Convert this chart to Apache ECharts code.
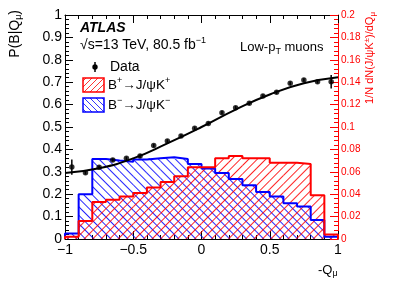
<!DOCTYPE html>
<html>
<head>
<meta charset="utf-8">
<script src="https://cdn.jsdelivr.net/npm/echarts@6/dist/echarts.min.js"></script>
<style>
html,body{margin:0;padding:0;background:#fff;}
#c{width:399px;height:286px;}
</style>
</head>
<body>
<div id="c"></div>
<script>
// ---- data ----
var binEdges = [-1,-0.9,-0.8,-0.7,-0.6,-0.5,-0.4,-0.3,-0.2,-0.1,0,0.1,0.2,0.3,0.4,0.5,0.6,0.7,0.8,0.9,1];
var binLabels = ['-0.95','-0.85','-0.75','-0.65','-0.55','-0.45','-0.35','-0.25','-0.15','-0.05','0.05','0.15','0.25','0.35','0.45','0.55','0.65','0.75','0.85','0.95'];
// fraction per bin (right axis)
var bMinus = [0.005,0.040,0.0714,0.070,0.069,0.071,0.072,0.073,0.0714,0.067,0.063,0.059,0.0535,0.048,0.042,0.038,0.032,0.029,0.017,0.002];
var bPlus  = [0.002,0.016,0.033,0.035,0.038,0.041,0.046,0.051,0.056,0.064,0.064,0.072,0.074,0.072,0.072,0.068,0.068,0.067,0.039,0.004];
// data points (left axis)
var dataQ = [-0.95,-0.85,-0.75,-0.65,-0.55,-0.45,-0.35,-0.25,-0.15,-0.05,0.05,0.15,0.25,0.35,0.45,0.55,0.65,0.75,0.85,0.95];
var dataP = [0.321,0.296,0.320,0.353,0.360,0.370,0.417,0.437,0.460,0.494,0.516,0.564,0.586,0.606,0.638,0.655,0.695,0.710,0.702,0.702];
var dataErr = [0.034,0.008,0.008,0.008,0.008,0.008,0.008,0.008,0.008,0.008,0.008,0.008,0.008,0.008,0.008,0.008,0.008,0.008,0.008,0.030];
// fitted curve
var fitQ = [-1,-0.75,-0.5,-0.25,0,0.25,0.5,0.75,1];
var fitP = [0.295,0.316,0.360,0.427,0.500,0.578,0.645,0.695,0.722];

var RED = '#ff0000', BLUE = '#0000ff';
var FONT = 'Liberation Sans, Arial, Helvetica, sans-serif';

function stepData(vals){
  var d = [[binEdges[0],0]];
  for (var i=0;i<vals.length;i++) d.push([binEdges[i], vals[i]]);
  d.push([binEdges[binEdges.length-1], vals[vals.length-1]]);
  d.push([binEdges[binEdges.length-1], 0]);
  return d;
}
function hatchLines(x0,y0,w,h,dir,color,step){
  var out=[]; var x1=x0+w, y1=y0+h;
  if (dir>0){ // "/" : x+y=c
    for (var c=x0+y0+step/2;c<x1+y1;c+=step){
      var xa=Math.max(x0,c-y1), xb=Math.min(x1,c-y0);
      if (xb>xa) out.push({type:'line',shape:{x1:xa,y1:c-xa,x2:xb,y2:c-xb},style:{stroke:color,lineWidth:1,opacity:0.8}});
    }
  } else { // "\" : x-y=c
    for (var c2=x0-y1+step/2;c2<x1-y0;c2+=step){
      var xa2=Math.max(x0,c2+y0), xb2=Math.min(x1,c2+y1);
      if (xb2>xa2) out.push({type:'line',shape:{x1:xa2,y1:xa2-c2,x2:xb2,y2:xb2-c2},style:{stroke:color,lineWidth:1,opacity:0.8}});
    }
  }
  out.push({type:'rect',shape:{x:x0,y:y0,width:w,height:h},style:{fill:'none',stroke:color,lineWidth:1.5}});
  return out;
}

var chart = echarts.init(document.getElementById('c'), null, {renderer:'canvas'});
var minus = function(v){ return String(v).replace('-', '\u2212'); };

var supStyle = {fontSize:9, verticalAlign:'top', lineHeight:9, fontFamily:FONT};
var subStyle = {fontSize:9, verticalAlign:'bottom', lineHeight:9, fontFamily:FONT};

var option = {
  animation:false,
  textStyle:{fontFamily:FONT},
  grid:{left:65,right:61,top:15,bottom:47,containLabel:false},
  xAxis:[
    {type:'value',min:-1,max:1,interval:0.5,position:'bottom',
     axisLine:{show:true,onZero:false,lineStyle:{color:'#000',width:1}},
     axisTick:{show:true,inside:true,length:8,lineStyle:{color:'#000'}},
     minorTick:{show:true,splitNumber:5,length:4,lineStyle:{color:'#000'}},
     splitLine:{show:false},
     axisLabel:{fontSize:14,color:'#000',margin:4,formatter:minus}},
    {type:'category',data:binLabels,show:false,boundaryGap:true,axisLine:{onZero:false}},
    {type:'value',min:-1,max:1,interval:0.5,position:'top',
     axisLine:{show:true,onZero:false,lineStyle:{color:'#000',width:1}},
     axisTick:{show:true,inside:true,length:8,lineStyle:{color:'#000'}},
     minorTick:{show:true,splitNumber:5,length:4,lineStyle:{color:'#000'}},
     splitLine:{show:false},axisLabel:{show:false}}
  ],
  yAxis:[
    {type:'value',min:0,max:1,interval:0.1,position:'left',
     axisLine:{show:true,onZero:false,lineStyle:{color:'#000',width:1}},
     axisTick:{show:true,inside:true,length:8,lineStyle:{color:'#000'}},
     minorTick:{show:true,splitNumber:5,length:4,lineStyle:{color:'#000'}},
     splitLine:{show:false},
     axisLabel:{fontSize:14,color:'#000',margin:3}},
    {type:'value',min:0,max:0.2,interval:0.02,position:'right',
     axisLine:{show:true,onZero:false,lineStyle:{color:RED,width:1}},
     axisTick:{show:true,inside:true,length:8,lineStyle:{color:RED}},
     minorTick:{show:true,splitNumber:5,length:4,lineStyle:{color:RED}},
     splitLine:{show:false},
     axisLabel:{fontSize:10,color:RED,margin:3}}
  ],
  series:[
    {type:'bar',name:'Bminus',xAxisIndex:1,yAxisIndex:1,data:bMinus,barWidth:'100%',barGap:'-100%',
     itemStyle:{color:'rgba(0,0,0,0)',decal:{symbol:'rect',symbolSize:1,color:'rgba(0,0,255,0.85)',dashArrayX:[1,0],dashArrayY:[1,5],rotation:Math.PI/4}}, z:1},
    {type:'bar',name:'Bplus',xAxisIndex:1,yAxisIndex:1,data:bPlus,barWidth:'100%',barGap:'-100%',
     itemStyle:{color:'rgba(0,0,0,0)',decal:{symbol:'rect',symbolSize:1,color:'rgba(255,0,0,0.85)',dashArrayX:[1,0],dashArrayY:[1,5],rotation:-Math.PI/4}}, z:1},
    {type:'line',xAxisIndex:0,yAxisIndex:1,data:stepData(bMinus),step:'end',showSymbol:false,
     lineStyle:{color:BLUE,width:2},z:3},
    {type:'line',xAxisIndex:0,yAxisIndex:1,data:stepData(bPlus),step:'end',showSymbol:false,
     lineStyle:{color:RED,width:2},z:3},
    {type:'line',xAxisIndex:0,yAxisIndex:0,data:fitQ.map(function(q,i){return [q,fitP[i]];}),
     smooth:0.5,showSymbol:false,lineStyle:{color:'#000',width:2},z:4},
    {type:'custom',xAxisIndex:0,yAxisIndex:0,z:5,
     data:dataQ.map(function(q,i){return [q,dataP[i],dataErr[i]];}),
     encode:{x:0,y:1},
     renderItem:function(params,api){
       var x=api.value(0),y=api.value(1),e=api.value(2);
       var p1=api.coord([x,y-e]),p2=api.coord([x,y+e]);
       return {type:'line',shape:{x1:p1[0],y1:p1[1],x2:p2[0],y2:p2[1]},style:{stroke:'#000',lineWidth:1.5}};
     }},
    {type:'scatter',xAxisIndex:0,yAxisIndex:0,z:6,symbol:'circle',symbolSize:5.5,
     itemStyle:{color:'#000'},data:dataQ.map(function(q,i){return [q,dataP[i]];})}
  ],
  graphic:[
    {type:'text',x:15,y:10,rotation:Math.PI/2,
     style:{text:'P(B|Q{s|μ})',rich:{s:subStyle},fontSize:14,lineHeight:16,fill:'#000',align:'right',verticalAlign:'middle',fontFamily:FONT}},
    {type:'text',x:370,y:12,rotation:Math.PI/2,
     style:{text:'1/N dN(J/ψK{p|±})/dQ{s|μ}',rich:{p:{fontSize:8,verticalAlign:'top',lineHeight:8,fill:RED,fontFamily:FONT},s:{fontSize:8,verticalAlign:'bottom',lineHeight:8,fill:RED,fontFamily:FONT}},
            fontSize:11,lineHeight:14,fill:RED,align:'right',verticalAlign:'middle',fontFamily:FONT}},
    {type:'text',x:80,y:28,style:{text:'ATLAS',fontSize:14,fontWeight:'bold',fontStyle:'italic',fill:'#000',verticalAlign:'middle',fontFamily:FONT}},
    {type:'text',x:80,y:45,style:{text:'√s=13 TeV, 80.5 fb{p|−1}',rich:{p:supStyle},fontSize:14,lineHeight:18,fill:'#000',verticalAlign:'middle',fontFamily:FONT}},
    {type:'text',x:240,y:47,style:{text:'Low-p{s|T} muons',rich:{s:subStyle},fontSize:13,lineHeight:18,fill:'#000',verticalAlign:'middle',fontFamily:FONT}},
    {type:'line',shape:{x1:95,y1:62,x2:95,y2:72},style:{stroke:'#000',lineWidth:1.5}},
    {type:'circle',shape:{cx:95,cy:67,r:2.7},style:{fill:'#000'}},
    {type:'text',x:110,y:67,style:{text:'Data',fontSize:14,fill:'#000',verticalAlign:'middle',fontFamily:FONT}},
    {type:'group',children:hatchLines(83,78,21,14,1,RED,6)},
    {type:'text',x:108,y:85,style:{text:'B{p|+}→J/ψK{p|+}',rich:{p:supStyle},fontSize:13.5,lineHeight:18,fill:'#000',verticalAlign:'middle',fontFamily:FONT}},
    {type:'group',children:hatchLines(83,98,21,14,-1,BLUE,6)},
    {type:'text',x:108,y:105,style:{text:'B{p|−}→J/ψK{p|−}',rich:{p:supStyle},fontSize:13.5,lineHeight:18,fill:'#000',verticalAlign:'middle',fontFamily:FONT}},
    {type:'text',x:318,y:270,style:{text:'-Q{s|μ}',rich:{s:subStyle},fontSize:13,lineHeight:16,fill:'#000',verticalAlign:'middle',fontFamily:FONT}}
  ]
};
chart.setOption(option);
</script>
</body>
</html>
